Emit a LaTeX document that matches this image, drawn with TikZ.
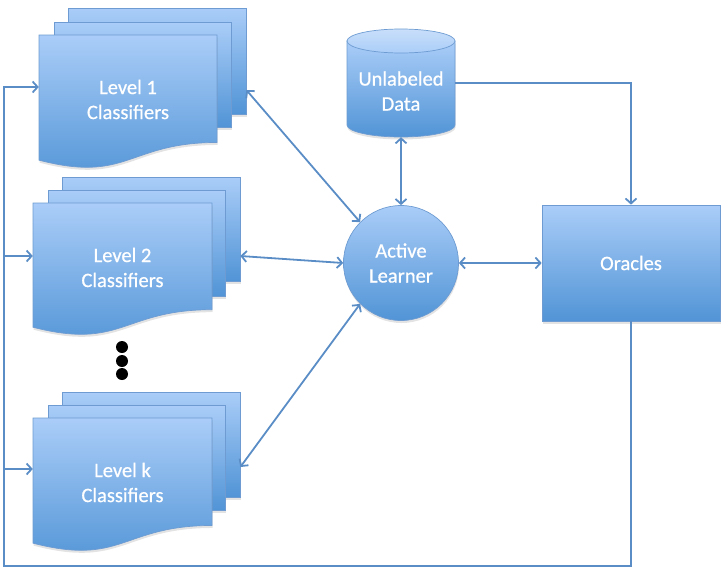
\documentclass[tikz,border=0pt]{standalone}
\usepackage{fontspec}
\setmainfont{Carlito}
\newfontfamily\lblfont{Carlito}[FakeBold=0.7]
\usetikzlibrary{arrows.meta,shadows}
\definecolor{topc}{HTML}{AACDF8}
\definecolor{botc}{HTML}{5194D6}
\definecolor{edgec}{HTML}{6E9CD2}
\definecolor{linec}{HTML}{5A8DC6}
\definecolor{capc}{HTML}{C9DFFA}
\tikzset{
  sheet/.style={draw=edgec, line width=0.7pt, top color=topc, bottom color=botc,
    drop shadow={opacity=0.22, shadow xshift=0.5pt, shadow yshift=-2.5pt}},
  capfill/.style={draw=edgec, line width=0.7pt, top color=capc, bottom color=topc},
  lbl/.style={text=white, align=center, font=\lblfont\fontsize{20.5}{25}\selectfont},
  conn/.style={draw=linec, line width=1.8pt},
  tip/.style={-{Straight Barb[length=5pt,width=11pt]}},
  dtip/.style={{Straight Barb[length=5pt,width=11pt]}-{Straight Barb[length=5pt,width=11pt]}},
  dotmark/.style={circle, fill=black, minimum size=12pt, inner sep=0pt}
}
\newcommand\docsheet[4]{%
  \path[sheet] (#1,#2) -- (#1+#3,#2) -- (#1+#3,#2+0.802*#4)
    .. controls (#1+0.5*#3,#2+0.802*#4) and (#1+0.5*#3,#2+1.1075*#4) .. (#1,#2+0.934*#4) -- cycle;}
\begin{document}
\begin{tikzpicture}[x=1pt,y=-1pt]
\useasboundingbox (0,0) rectangle (727,576);
% Level 1 stack
\node[sheet, minimum width=178pt, minimum height=106pt] (l1c) at (157,61) {};
\node[sheet, minimum width=177pt, minimum height=105pt] (l1b) at (142.5,74.5) {};
\docsheet{39}{35}{178}{134}
\node[lbl, minimum width=178pt] (l1) at (128,99.5) {Level 1\\Classifiers};
% Level 2 stack
\node[sheet, minimum width=178pt, minimum height=104pt] (l2c) at (151,229) {};
\node[sheet, minimum width=177pt, minimum height=106pt] (l2b) at (136.5,243) {};
\docsheet{33}{203}{179}{133}
\node[lbl, minimum width=179pt] (l2) at (122.5,267.5) {Level 2\\Classifiers};
% Level k stack
\node[sheet, minimum width=178pt, minimum height=105pt] (lkc) at (151,444.5) {};
\node[sheet, minimum width=177pt, minimum height=105pt] (lkb) at (136.5,457.5) {};
\docsheet{33}{418}{179}{134}
\node[lbl, minimum width=179pt] (lk) at (122.5,482.5) {Level k\\Classifiers};
% dots
\node[dotmark] (d1) at (122,347) {};
\node[dotmark] (d2) at (122,361) {};
\node[dotmark] (d3) at (122,374) {};
% Unlabeled data cylinder
\path[sheet] (347,41) -- (347,125) arc[start angle=180, end angle=360, x radius=54pt, y radius=12pt] -- (455,41) -- cycle;
\path[capfill] (401,41) ellipse[x radius=54pt, y radius=12pt];
\node[minimum width=108pt, minimum height=108pt, inner sep=0pt] (ud) at (401,83) {};
\node[lbl] (udt) at (401,91) {Unlabeled\\Data};
% Active learner
\node[sheet, circle, minimum size=115pt, inner sep=0pt, lbl] (al) at (401,263) {Active\\Learner};
% Oracles
\node[sheet, minimum width=178pt, minimum height=116pt, lbl] (or) at (631,263) {Oracles};
% coordinates
\coordinate (l1e) at ([yshift=-29pt]l1c.east);
\coordinate (l2e) at ([yshift=-27pt]l2c.east);
\coordinate (lke) at ([yshift=-22.5pt]lkc.east);
\coordinate (l1in) at ([yshift=12.5pt]l1.west);
\coordinate (l2in) at ([yshift=11.5pt]l2.west);
\coordinate (lkin) at ([yshift=13.5pt]lk.west);
\coordinate (corner) at (4,566);
% connectors
\draw[conn, tip] (ud.east) -| (or.north);
\draw[conn, dtip] (ud.south) -- (al.north);
\draw[conn, dtip] (al.east) -- (or.west);
\draw[conn, dtip] (l1e) -- (al.135);
\draw[conn, dtip] (l2e) -- (al.west);
\draw[conn, dtip] (lke) -- (al.225);
\draw[conn, tip] (or.south) |- (corner) |- (l1in);
\draw[conn, tip] (corner |- l2in) -- (l2in);
\draw[conn, tip] (corner |- lkin) -- (lkin);
\end{tikzpicture}
\end{document}
